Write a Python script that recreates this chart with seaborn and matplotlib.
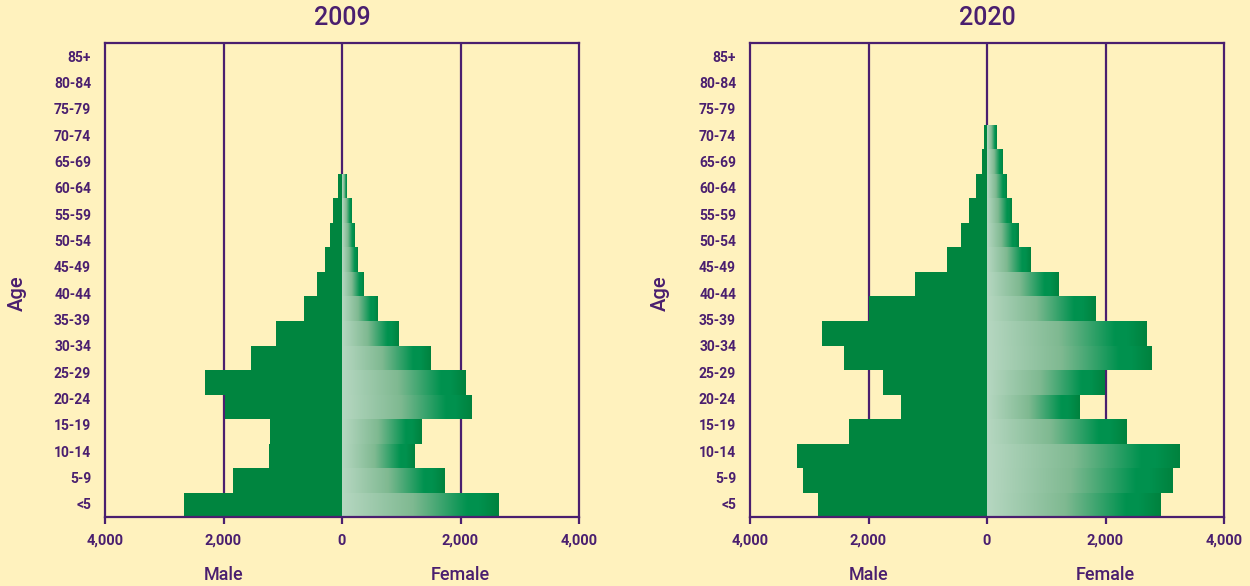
import numpy as np
import seaborn as sns
import matplotlib.pyplot as plt
from matplotlib.colors import LinearSegmentedColormap
from matplotlib.transforms import blended_transform_factory

# age groups on the y axis (bottom to top)
age_groups = ['<5', '5-9', '10-14', '15-19', '20-24', '25-29', '30-34', '35-39',
              '40-44', '45-49', '50-54', '55-59', '60-64', '65-69', '70-74',
              '75-79', '80-84', '85+']

# population counts, youngest group first
male_2009 = [2667, 1833, 1233, 1217, 1983, 2317, 1533, 1117, 633, 417, 283, 200, 150, 67]
female_2009 = [2633, 1733, 1217, 1350, 2183, 2083, 1500, 950, 600, 367, 267, 217, 167, 83]
male_2020 = [2859, 3108, 3208, 2327, 1446, 1762, 2410, 2792, 1994, 1213, 681, 432, 299, 183, 83, 50]
female_2020 = [2920, 3136, 3252, 2355, 1557, 1989, 2770, 2687, 1839, 1208, 742, 526, 410, 327, 260, 161]

years = ['2009', '2020']
x_ticks = [-4000, -2000, 0, 2000, 4000]
x_tick_labels = ['4,000', '2,000', '0', '2,000', '4,000']
sex_labels = ['Male', 'Female']

# colours
bg = '#fff2be'
purple = '#4a1f6f'
male_green = '#00853f'
female_cmap = LinearSegmentedColormap.from_list(
    'female', [(0.0, '#b6d7c1'), (0.45, '#7fb991'), (0.80, '#00924f'),
               (0.88, '#00914e'), (1.0, '#00823e')])

sns.set_style('white')
plt.rcParams['font.family'] = ['Roboto', 'DejaVu Sans']

# bars are drawn a bit thinner than the label rows, as in the original
row_ratio = 26.33 / 24.5

fig = plt.figure(figsize=(12.5, 5.86), dpi=100, facecolor=bg)
axes = [fig.add_axes([0.084, 0.1177, 0.3792, 0.8089]),
        fig.add_axes([0.600, 0.1177, 0.3792, 0.8089])]


def draw_pyramid(ax, year, male, female):
    groups = age_groups[:len(male)]
    ax.set_facecolor(bg)

    for x in x_ticks[1:-1]:
        ax.axvline(x, color=purple, lw=1.6, zorder=0.5)

    sns.barplot(x=[-m for m in male], y=groups, orient='h', color=male_green,
                saturation=1, width=1, linewidth=0, ax=ax, zorder=2)
    n_before = len(ax.patches)
    sns.barplot(x=female, y=groups, orient='h', color=male_green,
                saturation=1, width=1, linewidth=0, ax=ax, zorder=2)

    # female bars get a light-to-dark gradient, clipped to each bar
    grad = np.linspace(0, 1, 256).reshape(1, -1)
    for p in ax.patches[n_before:]:
        bb = p.get_bbox()
        im = ax.imshow(grad, cmap=female_cmap, aspect='auto', interpolation='bilinear',
                       extent=[bb.x0, bb.x1, min(bb.y0, bb.y1), max(bb.y0, bb.y1)],
                       zorder=2.1)
        im.set_clip_path(p)
        p.set_facecolor('none')

    ax.set_aspect('auto')
    ax.set_xlim(-4000, 4000)
    ax.set_ylim(-0.5, -0.5 + len(age_groups) * row_ratio)
    ax.set_xticks(x_ticks, labels=x_tick_labels, fontweight='bold')
    ax.set_yticks([-0.5 + (k + 0.5) * row_ratio for k in range(len(age_groups))],
                  labels=age_groups, fontweight='bold')
    ax.set_xlabel('')
    ax.set_ylabel('')
    ax.tick_params(axis='x', length=5, width=1.6, color=purple, pad=7,
                   labelsize=10.5, labelcolor=purple, direction='out', bottom=True)
    ax.tick_params(axis='y', length=0, pad=10, labelsize=10, labelcolor=purple)
    for s in ax.spines.values():
        s.set_visible(True)
        s.set_color(purple)
        s.set_linewidth(1.6)

    top = blended_transform_factory(ax.transAxes, fig.transFigure)
    ax.text(0.5, 0.969, year, transform=top, ha='center', va='center',
            fontsize=18, fontweight='medium', color=purple)
    low = blended_transform_factory(ax.transData, fig.transFigure)
    for x, lab in zip([-2000, 2000], sex_labels):
        ax.text(x, 0.019, lab, transform=low, ha='center', va='center',
                fontsize=13, fontweight='medium', color=purple)


draw_pyramid(axes[0], years[0], male_2009, female_2009)
draw_pyramid(axes[1], years[1], male_2020, female_2020)

fig.text(0.0136, 0.5, 'Age', rotation=90, ha='center', va='center',
         fontsize=14.5, fontweight='medium', color=purple)
fig.text(0.528, 0.5, 'Age', rotation=90, ha='center', va='center',
         fontsize=14.5, fontweight='medium', color=purple)

fig.savefig('out.png', dpi=100, facecolor=bg)
